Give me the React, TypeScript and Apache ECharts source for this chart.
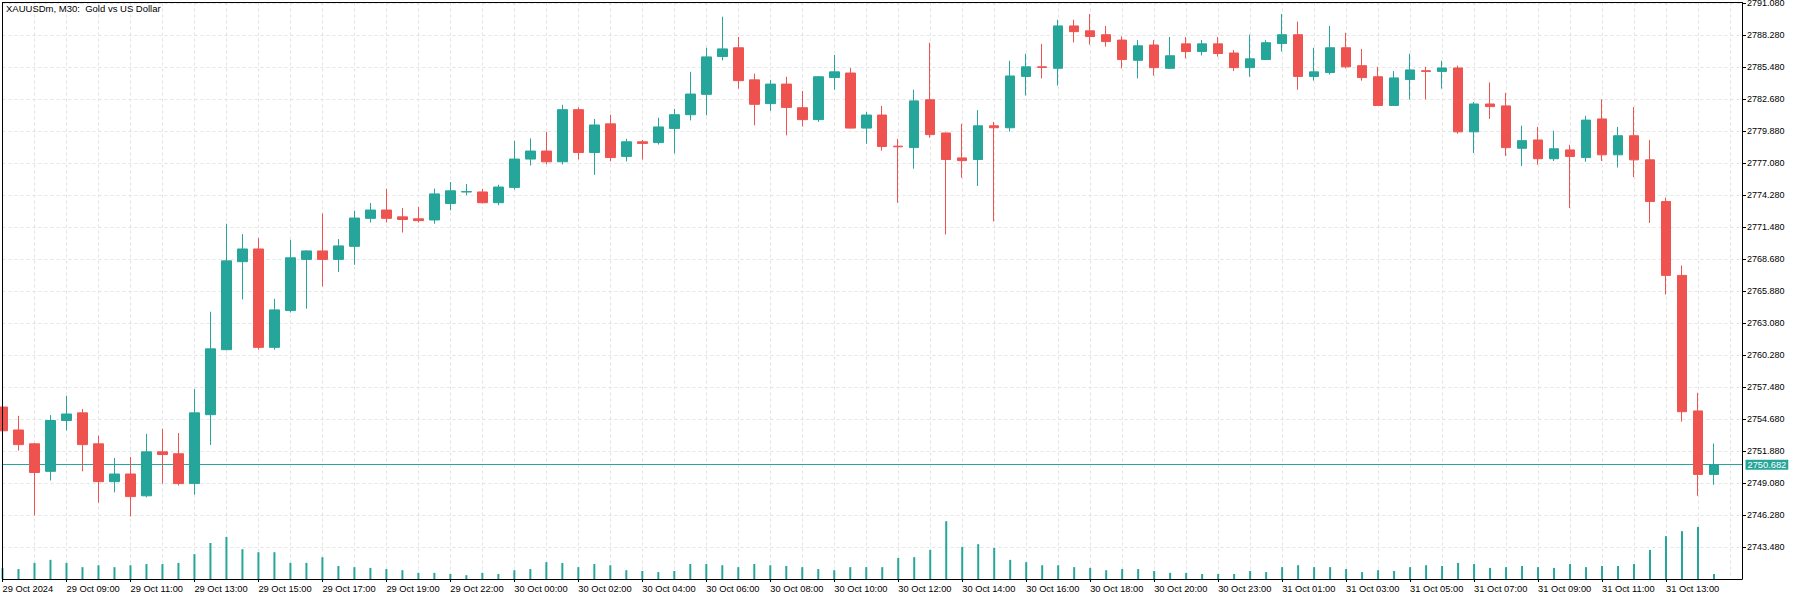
import React, { useEffect, useRef } from "react";
import * as echarts from "echarts";

// ---- data ----
const title = "XAUUSDm, M30:  Gold vs US Dollar";

// x-axis tick labels, one every 4 bars (2 hours of M30 bars)
const tickLabels = [
  "29 Oct 2024", "29 Oct 09:00", "29 Oct 11:00", "29 Oct 13:00", "29 Oct 15:00",
  "29 Oct 17:00", "29 Oct 19:00", "29 Oct 22:00", "30 Oct 00:00", "30 Oct 02:00",
  "30 Oct 04:00", "30 Oct 06:00", "30 Oct 08:00", "30 Oct 10:00", "30 Oct 12:00",
  "30 Oct 14:00", "30 Oct 16:00", "30 Oct 18:00", "30 Oct 20:00", "30 Oct 23:00",
  "31 Oct 01:00", "31 Oct 03:00", "31 Oct 05:00", "31 Oct 07:00", "31 Oct 09:00",
  "31 Oct 11:00", "31 Oct 13:00",
];
const tickIndices = [
  0, 4, 8, 12, 16, 20, 24, 28, 32, 36, 40, 44, 48, 52, 56, 60, 64, 68, 72, 76,
  80, 84, 88, 92, 96, 100, 104,
];

const opens = [
  2755.73, 2753.72, 2752.51, 2750.10, 2754.55, 2755.22, 2752.51, 2749.20, 2749.87, 2747.96,
  2751.81, 2751.64, 2749.03, 2755.06, 2760.75, 2768.45, 2769.56, 2760.95, 2764.17, 2768.65,
  2769.39, 2768.65, 2769.79, 2772.24, 2772.97, 2772.37, 2772.20, 2772.10, 2773.54, 2774.55,
  2774.55, 2773.61, 2774.95, 2777.43, 2778.13, 2777.19, 2781.75, 2778.00, 2780.51, 2777.66,
  2778.94, 2778.87, 2780.11, 2781.31, 2783.09, 2786.40, 2787.17, 2784.36, 2782.28, 2783.99,
  2781.92, 2780.88, 2784.56, 2784.96, 2780.14, 2781.28, 2778.56, 2778.43, 2782.62, 2779.71,
  2777.53, 2777.39, 2780.34, 2780.17, 2784.66, 2785.50, 2785.37, 2789.08, 2788.65, 2788.31,
  2787.84, 2786.07, 2787.41, 2785.37, 2787.51, 2786.84, 2787.51, 2786.71, 2785.43, 2786.14,
  2787.54, 2788.31, 2784.66, 2785.00, 2787.17, 2785.60, 2784.63, 2782.12, 2784.39, 2785.16,
  2785.10, 2785.40, 2779.81, 2782.25, 2782.08, 2778.37, 2779.10, 2777.46, 2778.23, 2777.56,
  2780.94, 2777.80, 2779.47, 2777.36, 2773.71, 2767.25, 2755.39, 2749.83,
];
const closes = [
  2753.65, 2752.44, 2750.00, 2754.55, 2755.12, 2752.44, 2749.20, 2749.87, 2747.89, 2751.81,
  2751.57, 2749.03, 2755.22, 2760.82, 2768.52, 2769.56, 2760.95, 2764.23, 2768.79, 2769.39,
  2768.65, 2769.83, 2772.27, 2772.97, 2772.24, 2772.14, 2772.04, 2774.38, 2774.65, 2774.58,
  2773.61, 2774.98, 2777.43, 2778.13, 2777.19, 2781.75, 2778.00, 2780.41, 2777.56, 2778.94,
  2778.80, 2780.24, 2781.31, 2783.12, 2786.37, 2787.07, 2784.29, 2782.22, 2783.99, 2781.95,
  2780.88, 2784.63, 2785.06, 2780.14, 2781.28, 2778.53, 2778.50, 2782.52, 2779.57, 2777.39,
  2777.29, 2780.34, 2780.17, 2784.70, 2785.50, 2785.45, 2789.08, 2788.58, 2788.15, 2787.71,
  2786.14, 2787.34, 2785.43, 2786.47, 2786.84, 2787.51, 2786.67, 2785.43, 2786.20, 2787.61,
  2788.31, 2784.66, 2785.06, 2787.17, 2785.50, 2784.56, 2782.12, 2784.53, 2785.23, 2785.10,
  2785.40, 2779.81, 2782.25, 2782.02, 2778.43, 2779.04, 2777.46, 2778.33, 2777.66, 2780.84,
  2777.80, 2779.47, 2777.36, 2773.71, 2767.25, 2755.32, 2749.83, 2750.68,
];
const lows = [
  2753.60, 2751.91, 2746.25, 2749.30, 2753.68, 2750.10, 2747.35, 2748.26, 2746.15, 2747.82,
  2749.03, 2748.86, 2748.06, 2752.41, 2760.70, 2765.14, 2760.75, 2760.75, 2764.00, 2764.33,
  2766.28, 2767.55, 2768.18, 2771.87, 2771.87, 2771.00, 2771.87, 2771.77, 2772.94, 2774.28,
  2773.54, 2773.38, 2774.75, 2776.86, 2776.96, 2776.96, 2777.39, 2776.05, 2777.23, 2777.23,
  2777.39, 2778.70, 2777.93, 2780.81, 2781.25, 2786.07, 2783.59, 2780.38, 2781.65, 2779.50,
  2780.27, 2780.68, 2783.49, 2780.11, 2778.77, 2778.16, 2773.61, 2776.59, 2779.30, 2770.83,
  2775.79, 2775.08, 2771.97, 2779.84, 2782.99, 2784.49, 2783.86, 2787.64, 2787.44, 2787.27,
  2785.37, 2784.49, 2784.73, 2785.30, 2786.24, 2786.50, 2786.40, 2785.13, 2784.63, 2786.10,
  2786.84, 2783.49, 2784.29, 2784.83, 2785.37, 2784.29, 2782.10, 2782.10, 2782.65, 2782.65,
  2783.59, 2779.64, 2777.96, 2780.94, 2777.70, 2776.82, 2776.93, 2777.26, 2773.14, 2777.19,
  2777.26, 2776.69, 2775.85, 2771.84, 2765.57, 2754.45, 2747.96, 2748.93,
];
const highs = [
  2755.80, 2754.96, 2752.58, 2755.02, 2756.70, 2755.56, 2753.22, 2751.27, 2751.37, 2753.38,
  2753.82, 2753.45, 2757.30, 2764.07, 2771.77, 2770.86, 2770.53, 2765.20, 2770.36, 2769.45,
  2772.67, 2770.43, 2772.91, 2773.58, 2774.82, 2773.14, 2773.24, 2774.85, 2775.42, 2775.25,
  2774.82, 2775.18, 2779.04, 2779.24, 2779.81, 2782.18, 2781.95, 2780.94, 2781.31, 2779.20,
  2779.10, 2781.04, 2781.82, 2785.06, 2787.17, 2789.89, 2788.11, 2784.90, 2784.36, 2784.63,
  2783.39, 2784.70, 2786.54, 2785.40, 2781.55, 2782.08, 2779.20, 2783.49, 2787.61, 2779.75,
  2780.51, 2781.71, 2780.68, 2786.03, 2786.64, 2787.51, 2789.62, 2789.62, 2790.12, 2789.08,
  2788.18, 2787.84, 2787.84, 2788.11, 2788.11, 2787.84, 2788.11, 2786.97, 2788.31, 2787.84,
  2790.12, 2789.45, 2787.17, 2789.08, 2788.48, 2787.07, 2785.50, 2785.13, 2786.64, 2785.50,
  2786.03, 2785.60, 2782.42, 2784.13, 2783.22, 2780.34, 2780.24, 2779.91, 2778.67, 2781.21,
  2782.65, 2780.24, 2781.98, 2779.10, 2774.05, 2768.12, 2756.97, 2752.54,
];
const volumes = [
  28, 26, 42, 50, 42, 31, 36, 31, 36, 39,
  39, 42, 65, 94, 110, 78, 70, 70, 42, 42,
  57, 34, 31, 29, 26, 23, 16, 16, 13, 10,
  16, 13, 23, 26, 44, 42, 31, 39, 36, 23,
  21, 18, 21, 39, 39, 36, 31, 39, 36, 34,
  31, 26, 23, 31, 31, 31, 55, 57, 76, 151,
  84, 91, 81, 50, 44, 36, 36, 31, 29, 23,
  26, 26, 21, 16, 16, 13, 13, 13, 21, 18,
  31, 36, 31, 31, 26, 18, 23, 21, 31, 36,
  34, 42, 39, 29, 31, 34, 31, 29, 39, 31,
  34, 34, 39, 76, 112, 125, 136, 13,
];
const lastPrice = 2750.682;

// ---- scales ----
const PRICE_MIN = 2740.68;
const PRICE_MAX = 2791.13;
const PRICE_STEP = 2.8;
const VOL_MAX = 1506;
const X_MIN = 0;
const X_MAX = 108.75;

const UP = "#26a69a";
const DOWN = "#ef5350";
const GRID_COLOR = "#e3e3e3";
const FONT = '"Liberation Sans", Arial, sans-serif';

export default function App() {
  const ref = useRef<HTMLDivElement>(null);

  useEffect(() => {
    if (!ref.current) return;
    const chart = echarts.init(ref.current, null, { renderer: "svg" });

    const candleData = opens.map((o, i) => [i, o, closes[i], lows[i], highs[i]]);
    const volData = volumes.map((v, i) => [i, v]);
    const range = PRICE_MAX - PRICE_MIN;

    const option: any = {
      animation: false,
      backgroundColor: "#ffffff",
      textStyle: { fontFamily: FONT },
      grid: {
        left: 2.5,
        right: 58,
        top: 2.5,
        bottom: 21,
        show: false,
        containLabel: false,
        outerBoundsMode: "none",
      },
      graphic: [
        {
          type: "text",
          left: 6,
          top: 3.5,
          z: 20,
          style: { text: title, fill: "#000000", fontSize: 9.5, fontFamily: FONT },
        },
      ],
      xAxis: [
        {
          // data axis, draws vertical grid lines every 2 bars
          type: "value",
          min: X_MIN,
          max: X_MAX,
          interval: 2,
          position: "bottom",
          axisLine: { show: false, onZero: false },
          axisTick: { show: false },
          axisLabel: { show: false },
          splitLine: {
            show: true,
            showMinLine: false,
            showMaxLine: false,
            lineStyle: { color: GRID_COLOR, width: 1, type: [3, 3] },
          },
        },
        {
          // label axis: one tick and label every 4 bars
          type: "value",
          min: X_MIN,
          max: X_MAX,
          position: "bottom",
          z: 5,
          axisLine: { show: true, onZero: false, lineStyle: { color: "#000000", width: 1 } },
          axisTick: {
            show: true,
            length: 3,
            customValues: tickIndices,
            lineStyle: { color: "#000000", width: 1 },
          },
          axisLabel: {
            show: true,
            customValues: tickIndices,
            align: "left",
            margin: 5,
            color: "#000000",
            fontSize: 9.3,
            fontFamily: FONT,
            formatter: (v: number) => {
              const k = tickIndices.indexOf(Math.round(v));
              return k >= 0 ? tickLabels[k] : "";
            },
          },
          splitLine: { show: false },
        },
        {
          // top frame line of the plot
          type: "value",
          min: X_MIN,
          max: X_MAX,
          position: "top",
          z: 5,
          axisLine: { show: true, onZero: false, lineStyle: { color: "#000000", width: 1 } },
          axisTick: { show: false },
          axisLabel: { show: false },
          splitLine: { show: false },
        },
      ],
      yAxis: [
        {
          // price axis used by the candles (hidden)
          type: "value",
          min: PRICE_MIN,
          max: PRICE_MAX,
          position: "right",
          show: false,
          scale: true,
        },
        {
          // display axis: offset from PRICE_MIN so ticks fall on the 2.8 grid
          type: "value",
          min: 0,
          max: range,
          interval: PRICE_STEP,
          position: "right",
          axisLine: { show: true, onZero: false, lineStyle: { color: "#000000", width: 1 } },
          axisTick: { show: true, length: 4, lineStyle: { color: "#000000", width: 1 } },
          axisLabel: {
            show: true,
            showMinLabel: false,
            showMaxLabel: false,
            margin: 5,
            color: "#000000",
            fontSize: 9,
            fontFamily: FONT,
            formatter: (v: number) => (v + PRICE_MIN).toFixed(3),
          },
          splitLine: {
            show: true,
            showMinLine: false,
            showMaxLine: false,
            lineStyle: { color: GRID_COLOR, width: 1, type: [3, 3] },
          },
        },
        {
          // volume axis (hidden)
          type: "value",
          min: 0,
          max: VOL_MAX,
          position: "right",
          show: false,
        },
        {
          // left frame line of the plot
          type: "value",
          min: 0,
          max: 1,
          position: "left",
          z: 5,
          axisLine: { show: true, onZero: false, lineStyle: { color: "#000000", width: 1 } },
          axisTick: { show: false },
          axisLabel: { show: false },
          splitLine: { show: false },
        },
      ],
      series: [
        {
          type: "bar",
          name: "Volume",
          xAxisIndex: 0,
          yAxisIndex: 2,
          data: volData,
          barWidth: 2,
          itemStyle: { color: UP },
          z: 2,
        },
        {
          type: "candlestick",
          name: "XAUUSDm",
          xAxisIndex: 0,
          yAxisIndex: 0,
          data: candleData,
          barWidth: 10,
          z: 3,
          itemStyle: {
            color: UP,
            color0: DOWN,
            borderColor: UP,
            borderColor0: DOWN,
            borderWidth: 1,
          },
          markLine: {
            z: 1,
            silent: true,
            symbol: ["none", "none"],
            lineStyle: { color: UP, width: 1, type: "solid" },
            label: {
              show: true,
              position: "end",
              distance: 3.5,
              formatter: () => lastPrice.toFixed(3),
              color: "#ffffff",
              backgroundColor: UP,
              padding: [1, 2, 0, 2],
              fontSize: 9.3,
              fontFamily: FONT,
            },
            data: [{ yAxis: lastPrice }],
          },
        },
      ],
    };

    chart.setOption(option);
    return () => chart.dispose();
  }, []);

  return (
    <div
      ref={ref}
      style={{ position: "absolute", left: 0, top: 0, width: 1800, height: 600, background: "#ffffff" }}
    />
  );
}
